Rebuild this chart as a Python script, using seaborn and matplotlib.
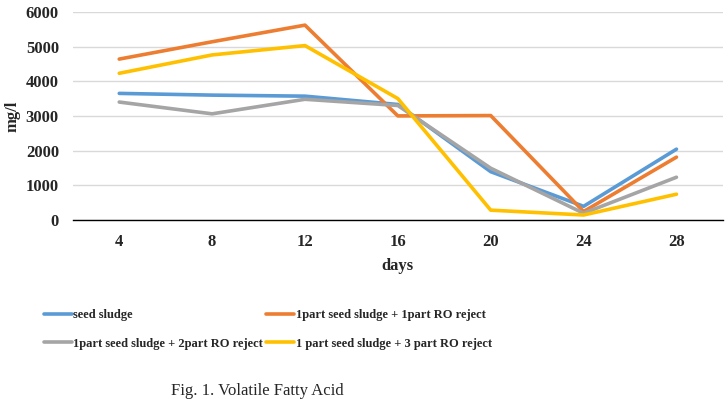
import pandas as pd
import matplotlib.pyplot as plt
import seaborn as sns

days = [4, 8, 12, 16, 20, 24, 28]
seed_sludge = [3650, 3600, 3570, 3330, 1390, 390, 2040]
ro_1part = [4640, 5140, 5620, 3000, 3010, 240, 1810]
ro_2part = [3400, 3060, 3480, 3300, 1490, 190, 1230]
ro_3part = [4230, 4760, 5030, 3500, 280, 140, 740]

labels = [
    "seed sludge",
    "1part seed sludge + 1part RO reject",
    "1part seed sludge + 2part RO reject",
    "1 part seed sludge + 3 part RO reject",
]
colors = ["#5B9BD5", "#ED7D31", "#A5A5A5", "#FFC000"]

df = pd.concat([
    pd.DataFrame({"days": days, "mg/l": vals, "series": name})
    for name, vals in zip(labels, [seed_sludge, ro_1part, ro_2part, ro_3part])
])

sns.set_style("white")
plt.rcParams["font.family"] = ["Liberation Serif", "DejaVu Serif"]

fig = plt.figure(figsize=(7.28, 3.99), dpi=100)
ax = fig.add_axes([0.1, 0.449, 0.893, 0.521])

sns.lineplot(data=df, x="days", y="mg/l", hue="series", hue_order=labels,
             palette=colors, linewidth=2.6, ax=ax, legend=False)

ax.set_xlim(2, 30)
ax.set_ylim(0, 6000)
ax.set_xticks(days)
ax.set_yticks(range(0, 6001, 1000))
ax.yaxis.grid(True, color="#D9D9D9", linewidth=1)
ax.set_axisbelow(True)
for s in ["left", "right", "top"]:
    ax.spines[s].set_visible(False)
ax.spines["bottom"].set_color("black")
ax.spines["bottom"].set_linewidth(1)
ax.tick_params(length=0, labelsize=12)
ax.tick_params(axis="x", pad=10)
ax.tick_params(axis="y", pad=10)
for t in ax.get_xticklabels() + ax.get_yticklabels():
    t.set_fontweight("bold")
ax.set_xlabel("days", fontsize=12, fontweight="bold", labelpad=6)
ax.set_ylabel("mg/l", fontsize=12, fontweight="bold", labelpad=4)

handles = [plt.Line2D([], [], color=c, linewidth=2.6) for c in colors]
order = [0, 2, 1, 3]
fig.legend([handles[i] for i in order], [labels[i] for i in order],
           loc="upper left", bbox_to_anchor=(0.052, 0.24), ncol=2,
           frameon=False, borderpad=0, handlelength=2.2, handletextpad=0.15,
           columnspacing=0.25, labelspacing=1.3,
           prop={"size": 9, "weight": "bold"})

fig.text(0.353, 0.02, "Fig. 1. Volatile Fatty Acid", ha="center",
         va="center", fontsize=12)

fig.savefig("out.png", dpi=100)
